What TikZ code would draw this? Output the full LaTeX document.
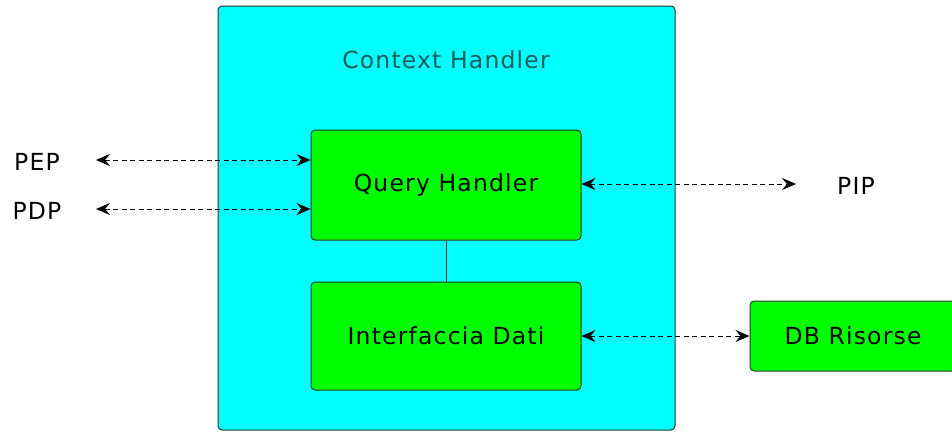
\documentclass[tikz,border=0pt]{standalone}
\usepackage{fontspec}
\setmainfont{DejaVu Sans}[LetterSpace=5]
\usetikzlibrary{arrows.meta}
\definecolor{cyanbox}{HTML}{00FFFF}
\definecolor{greenbox}{HTML}{00FF00}
\definecolor{titlecol}{HTML}{1E5A5E}
\definecolor{edgecol}{HTML}{2A3A2A}
\begin{document}
\begin{tikzpicture}[x=1pt,y=-1pt,
  txt/.style={font=\fontsize{23.5}{27}\selectfont},
  blk/.style={txt,draw=edgecol,line width=1pt,fill=greenbox,rounded corners=4pt},
  arr/.tip={Stealth[length=14pt,width=12pt,inset=5pt]},
  dconn/.style={dash pattern=on 5pt off 3.5pt,line width=0.85pt,{arr}-{arr}}]
\useasboundingbox (0,0) rectangle (952,432);
\path[draw=edgecol,line width=1pt,fill=cyanbox,rounded corners=4pt] (218,6) rectangle (675,430);
\node[txt,text=titlecol] (title) at (446,60) {Context Handler};
\node[blk,minimum width=270pt,minimum height=110pt] (qh) at (446,185) {Query Handler};
\node[blk,minimum width=270pt,minimum height=108pt] (id) at (446,336) {Interfaccia Dati};
\node[blk,minimum width=206pt,minimum height=70pt] (db) at (853,336) {DB Risorse};
\node[txt] (pep) at (37,162) {PEP};
\node[txt] (pdp) at (37,211) {PDP};
\node[txt] (pip) at (856,186) {PIP};
\coordinate (pepE) at (96,160);
\coordinate (pdpE) at (96,209);
\coordinate (pipE) at (796,184);
\draw[line width=1pt,draw=edgecol] (qh.south) -- (id.north);
\draw[dconn] (pepE) -- (qh.west |- pepE);
\draw[dconn] (pdpE) -- (qh.west |- pdpE);
\draw[dconn] (qh.east |- pipE) -- (pipE);
\draw[dconn] (id.east) -- (db.west);
\end{tikzpicture}
\end{document}
